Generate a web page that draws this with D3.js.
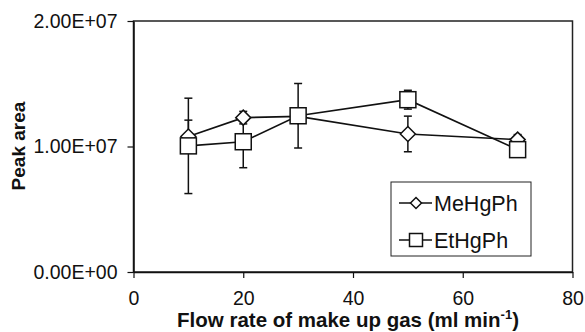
<!DOCTYPE html>
<html>
<head>
<meta charset="utf-8">
<script src="https://cdn.jsdelivr.net/npm/d3@7"></script>
<style>
  body { margin: 0; background: #fff; }
  svg { display: block; font-family: "Liberation Sans", Arial, sans-serif; }
</style>
</head>
<body>
<div class="container"></div>
<script>
// values
const flowRate = [10, 20, 30, 50, 70];
const meHgPh = [1.08e7, 1.23e7, 1.24e7, 1.10e7, 1.055e7];
const meHgPhErr = [0.13e7, 0.05e7, 0.05e7, 0.142e7, 0.04e7];
const etHgPh = [1.005e7, 1.038e7, 1.245e7, 1.373e7, 0.975e7];
const etHgPhErr = [0.38e7, 0.207e7, 0.257e7, 0.075e7, 0.04e7];
const xTicks = [0, 20, 40, 60, 80];
const yTicks = [0, 1e7, 2e7];
const yTickLabels = ["0.00E+00", "1.00E+07", "2.00E+07"];
const seriesNames = ["MeHgPh", "EtHgPh"];

const w = 585;
const h = 332;
const plotLeft = 133.5, plotRight = 572.5, plotTop = 21, plotBottom = 272;

const xScale = d3.scaleLinear().domain([0, 80]).range([plotLeft, plotRight]);
const yScale = d3.scaleLinear().domain([0, 2e7]).range([plotBottom, plotTop]);

const svg = d3.select(".container")
  .append("svg")
  .attr("width", w)
  .attr("height", h);

// plot frame
svg.append("rect")
  .attr("x", plotLeft)
  .attr("y", plotTop)
  .attr("width", plotRight - plotLeft)
  .attr("height", plotBottom - plotTop)
  .attr("fill", "none")
  .attr("stroke", "#222")
  .attr("stroke-width", 1.5);

const xAxis = d3.axisBottom(xScale).tickValues(xTicks).tickSize(6).tickSizeOuter(0).tickPadding(13);
const yAxis = d3.axisLeft(yScale).tickValues(yTicks).tickSize(6).tickSizeOuter(0).tickPadding(10)
  .tickFormat((d, i) => yTickLabels[i]);

const gx = svg.append("g")
  .attr("transform", "translate(0," + plotBottom + ")")
  .call(xAxis);
const gy = svg.append("g")
  .attr("transform", "translate(" + plotLeft + ",0)")
  .call(yAxis);

[gx, gy].forEach(g => {
  g.selectAll("path").attr("stroke", "#111").attr("stroke-width", 1.5);
  g.selectAll("line").attr("stroke", "#111").attr("stroke-width", 1.2);
  g.selectAll("text").attr("fill", "#111").attr("font-size", 19.5)
    .attr("font-family", "Liberation Sans, Arial, sans-serif");
});

// axis titles
svg.append("text")
  .attr("transform", "translate(25,146) rotate(-90)")
  .attr("text-anchor", "middle")
  .attr("font-size", 19)
  .attr("font-weight", "bold")
  .attr("fill", "#111")
  .text("Peak area");

const xt = svg.append("text")
  .attr("x", 348)
  .attr("y", 327)
  .attr("text-anchor", "middle")
  .attr("font-size", 20.5)
  .attr("font-weight", "bold")
  .attr("fill", "#111");
xt.append("tspan").text("Flow rate of make up gas (ml min");
xt.append("tspan").attr("font-size", 13).attr("dy", -8).text("-1");
xt.append("tspan").attr("dy", 8).text(")");

const series = [
  { name: seriesNames[0], vals: meHgPh, err: meHgPhErr, marker: "diamond" },
  { name: seriesNames[1], vals: etHgPh, err: etHgPhErr, marker: "square" }
];

// error bars
series.forEach(s => {
  const g = svg.append("g").attr("stroke", "#111").attr("stroke-width", 1.5);
  flowRate.forEach((x, i) => {
    const cx = xScale(x);
    const y1 = yScale(s.vals[i] + s.err[i]);
    const y2 = yScale(s.vals[i] - s.err[i]);
    g.append("line").attr("x1", cx).attr("x2", cx).attr("y1", y1).attr("y2", y2);
    g.append("line").attr("x1", cx - 4).attr("x2", cx + 4).attr("y1", y1).attr("y2", y1);
    g.append("line").attr("x1", cx - 4).attr("x2", cx + 4).attr("y1", y2).attr("y2", y2);
  });
});

// lines
const line = d3.line().x((d, i) => xScale(flowRate[i])).y(d => yScale(d));
series.forEach(s => {
  svg.append("path")
    .attr("d", line(s.vals))
    .attr("fill", "none")
    .attr("stroke", "#111")
    .attr("stroke-width", 1.6);
});

function drawMarker(g, type, cx, cy, r) {
  if (type === "diamond") {
    g.append("path")
      .attr("d", `M${cx},${cy - r}L${cx + r},${cy}L${cx},${cy + r}L${cx - r},${cy}Z`)
      .attr("fill", "#fff").attr("stroke", "#111").attr("stroke-width", 1.5);
  } else {
    g.append("rect")
      .attr("x", cx - r).attr("y", cy - r)
      .attr("width", 2 * r).attr("height", 2 * r)
      .attr("fill", "#fff").attr("stroke", "#111").attr("stroke-width", 1.5);
  }
}

// markers
series.forEach(s => {
  const g = svg.append("g");
  flowRate.forEach((x, i) => {
    drawMarker(g, s.marker, xScale(x), yScale(s.vals[i]), s.marker === "diamond" ? 7.5 : 8);
  });
});

// legend
const lg = svg.append("g");
lg.append("rect")
  .attr("x", 391).attr("y", 182)
  .attr("width", 140).attr("height", 74)
  .attr("fill", "#fff").attr("stroke", "#222").attr("stroke-width", 1);
series.forEach((s, i) => {
  const ly = 203 + i * 37;
  lg.append("line").attr("x1", 399).attr("x2", 432).attr("y1", ly).attr("y2", ly)
    .attr("stroke", "#111").attr("stroke-width", 1.5);
  drawMarker(lg, s.marker, 416, ly, s.marker === "diamond" ? 5.5 : 6.5);
  lg.append("text")
    .attr("x", 434).attr("y", ly)
    .attr("dy", "0.35em")
    .attr("font-size", 21.5)
    .attr("fill", "#111")
    .text(s.name);
});
</script>
</body>
</html>
